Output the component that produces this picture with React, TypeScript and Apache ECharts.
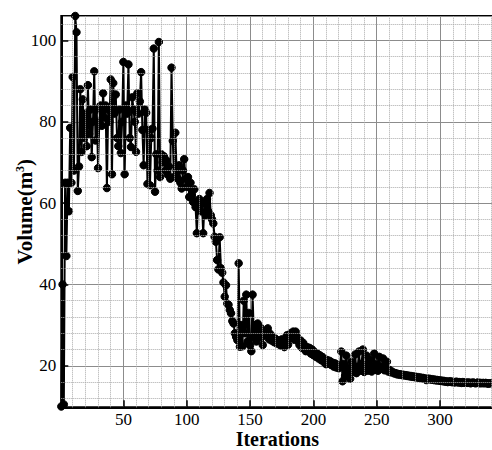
import React, { useEffect, useRef } from "react";
import * as echarts from "echarts";

// Volume per iteration (iteration = index + 1)
const volume: number[] = [
  10, 40, 10.5, 65, 47, 65, 58, 78.5, 65, 91, 68, 106, 102,
  63, 69, 88, 72.6, 85.5, 76, 82, 74, 89, 77, 83, 71.3, 80, 92.4, 75.4, 83, 68.6,
  80, 84, 79, 87, 81, 84, 63.7, 83, 80, 90.4, 67.1, 89.5, 82, 86.7, 76, 74, 83, 72.3, 80, 94.7,
  67.1, 84, 82, 94.1, 76, 73.8, 86, 83, 80, 72.6, 87, 82, 85, 92.2, 78, 69.3, 83, 82.2, 64.7, 78,
  64.4, 76, 78.3, 98, 62.8, 72, 68, 99.6, 66.4, 72, 70, 71.5, 68, 70.5, 67, 69, 66, 93.3, 75.3, 66.4,
  77.3, 68, 66, 69.3, 65, 63.6, 68, 70.8, 66, 64, 66.4, 61.5, 65, 62, 60.3, 63.4, 59, 52.6, 60, 61,
  58, 60, 52.6, 59.9, 57, 61, 58, 62.5, 57, 56, 55, 51.7, 50.5, 46, 43.7, 51.6, 44, 42.9, 40.5, 37,
  39.8, 35.3, 35, 33.7, 32.9, 31, 30.4, 28, 27.1, 26.3, 45.2, 24.7, 30, 24.8, 36, 28, 37.5, 26, 33, 25,
  23.6, 37.5, 27, 30, 26, 30.4, 28, 29.5, 27, 25.1, 28.5, 27.5, 28, 29.2, 26.5, 27.8, 26.2, 27, 25.8, 26.7,
  25.5, 26.2, 25.8, 25, 26.5, 25.3, 24.6, 26, 27.5, 25.2, 26.8, 28, 27, 28.4, 26.4, 28.4, 27.2, 26, 25.1, 26.2,
  24.4, 25.6, 24.8, 23.6, 24.6, 23.8, 24.4, 23, 24, 22.6, 23.4, 22.2, 23, 21.8, 22.6, 21.4, 22.2, 21, 21.6, 20.4,
  21.4, 20.8, 21.2, 20.2, 20.8, 19.8, 20.6, 19.6, 20.2, 19.4, 20, 23.5, 16.2, 20.5, 17.5, 22.5, 18, 19.5, 16.8, 21,
  18.5, 20, 22.8, 18.2, 19.6, 23.5, 18.8, 20.5, 24, 18.5, 19.8, 22.5, 18.8, 20.3, 21.5, 18.6, 19.5, 23, 19, 20.4,
  18.8, 22.2, 19.3, 19.8, 21.8, 18.9, 19.5, 21, 18.6, 19, 18.4, 18.6,
  18.3, 18.1, 18.2, 17.9, 18.0, 17.8, 17.9, 17.7, 17.8, 17.6, 17.7, 17.5, 17.6, 17.4, 17.5, 17.3, 17.4, 17.2,
  17.3, 17.1, 17.2, 17.0, 17.1, 16.9, 17.0, 16.8, 16.5, 16.9, 16.7, 16.8, 16.6, 16.7, 16.5, 16.6, 16.4, 16.5, 16.4, 16.3,
  16.4, 16.2, 16.3, 16.1, 16.2, 16.0, 16.1, 16.2, 16.0, 16.1, 15.9, 16.0, 16.1, 15.9, 16.0, 15.9, 15.8, 16.0, 15.9, 15.8,
  15.9, 15.8, 15.9, 15.7, 15.8, 15.9, 15.8, 15.7, 15.8, 15.9, 15.7, 15.8, 15.7, 15.8, 15.7, 15.8, 15.7, 15.6, 15.7, 15.7,
];

// Minor (dotted) grid line positions
const yMinorLines: number[] = [12, 16, 24, 28, 32, 36, 44, 48, 52, 56, 64, 68, 72, 76, 84, 88, 92, 96, 104];
const xMinorLines: number[] = [
  10, 20, 30, 40, 60, 70, 80, 90, 110, 120, 130, 140, 160, 170, 180, 190,
  210, 220, 230, 240, 260, 270, 280, 290, 310, 320, 330, 340,
];

const FONT = "'Liberation Serif', 'Times New Roman', serif";

export default function App() {
  const ref = useRef<HTMLDivElement>(null);

  useEffect(() => {
    if (!ref.current) return;
    const chart = echarts.init(ref.current, undefined, { renderer: "svg" });
    const seriesData = volume.map((v, i) => [i + 1, v]);

    const minorLines = [
      ...yMinorLines.map((v) => ({ yAxis: v })),
      ...xMinorLines.map((v) => ({ xAxis: v })),
    ];

    chart.setOption({
      animation: false,
      backgroundColor: "#fff",
      grid: {
        left: 61.3,
        top: 16,
        width: 432,
        height: 391.3,
        containLabel: false,
        outerBoundsMode: "none",
        show: true,
        borderColor: "#000",
        borderWidth: 2,
        backgroundColor: "transparent",
      },
      xAxis: {
        type: "value",
        min: 1,
        max: 342,
        minInterval: 50,
        maxInterval: 50,
        axisLine: { show: true, onZero: false, lineStyle: { color: "#000", width: 2 } },
        axisTick: { show: true, inside: true, length: 7, lineStyle: { color: "#000", width: 1.5 } },
        axisLabel: {
          showMinLabel: false,
          showMaxLabel: false,
          fontFamily: FONT,
          fontSize: 17,
          lineHeight: 16,
          color: "#000",
          margin: 4,
        },
        splitLine: { show: true, lineStyle: { color: "#8c8c8c", width: 1 } },
        name: "Iterations",
        nameLocation: "middle",
        nameGap: 22,
        nameMoveOverlap: false,
        nameTextStyle: { fontFamily: FONT, fontWeight: "bold", fontSize: 20, lineHeight: 19, color: "#000" },
      },
      yAxis: {
        type: "value",
        min: 9.8,
        max: 106,
        minInterval: 20,
        maxInterval: 20,
        axisLine: { show: true, onZero: false, lineStyle: { color: "#000", width: 2 } },
        axisTick: { show: true, inside: true, length: 7, lineStyle: { color: "#000", width: 1.5 } },
        axisLabel: {
          showMinLabel: false,
          showMaxLabel: false,
          fontFamily: FONT,
          fontSize: 17,
          color: "#000",
          margin: 5,
        },
        splitLine: { show: true, lineStyle: { color: "#8c8c8c", width: 1 } },
        name: "Volume(m{sup|3})",
        nameLocation: "middle",
        nameGap: 26,
        nameMoveOverlap: false,
        nameTextStyle: {
          fontFamily: FONT,
          fontWeight: "bold",
          fontSize: 21,
          color: "#000",
          rich: {
            sup: { fontFamily: FONT, fontWeight: "bold", fontSize: 12, color: "#000", verticalAlign: "top" },
          },
        },
      },
      series: [
        {
          type: "line",
          data: [],
          z: 1,
          silent: true,
          markLine: {
            silent: true,
            symbol: ["none", "none"],
            label: { show: false },
            emphasis: { disabled: true },
            lineStyle: { type: "dotted", color: "#aaaaaa", width: 1 },
            data: minorLines,
          },
        },
        {
          type: "line",
          z: 3,
          data: seriesData,
          showSymbol: true,
          symbol: "circle",
          symbolSize: 7.5,
          itemStyle: { color: "#000", borderColor: "#000" },
          lineStyle: { color: "#000", width: 2 },
          emphasis: { disabled: true },
        },
      ],
    });

    return () => chart.dispose();
  }, []);

  return (
    <div
      ref={ref}
      style={{ position: "absolute", left: 0, top: 0, width: 492, height: 450, background: "#fff" }}
    />
  );
}
